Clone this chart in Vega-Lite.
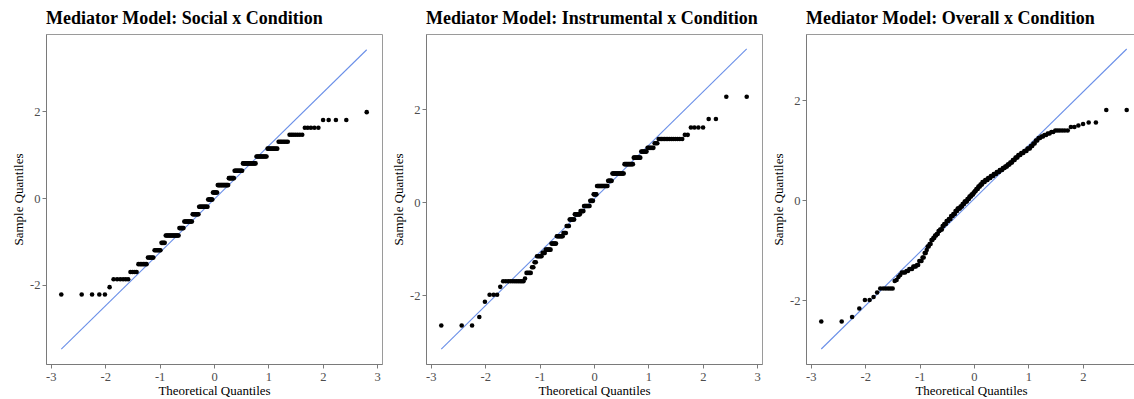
{
  "$schema": "https://vega.github.io/schema/vega-lite/v6.json",
  "padding": {"left": 12, "top": 9, "right": 0, "bottom": 0},
  "background": "white",
  "spacing": 44,
  "bounds": "flush",
  "datasets": {
    "ln": [
      {"t": -2.807, "social": -3.477, "instrumental": -3.16, "overall": -2.98},
      {"t": 2.807, "social": 3.417, "instrumental": 3.30, "overall": 3.02}
    ],
    "qq": [
      {"t": -2.807, "social": -2.22, "instrumental": -2.65, "overall": -2.43},
      {"t": -2.432, "social": -2.22, "instrumental": -2.65, "overall": -2.43},
      {"t": -2.241, "social": -2.22, "instrumental": -2.65, "overall": -2.34},
      {"t": -2.108, "social": -2.22, "instrumental": -2.47, "overall": -2.17},
      {"t": -2.005, "social": -2.22, "instrumental": -2.14, "overall": -2.00},
      {"t": -1.919, "social": -2.05, "instrumental": -1.99, "overall": -2.00},
      {"t": -1.846, "social": -1.87, "instrumental": -1.99, "overall": -1.94},
      {"t": -1.781, "social": -1.87, "instrumental": -1.99, "overall": -1.85},
      {"t": -1.723, "social": -1.87, "instrumental": -1.82, "overall": -1.77},
      {"t": -1.670, "social": -1.87, "instrumental": -1.70, "overall": -1.77},
      {"t": -1.622, "social": -1.87, "instrumental": -1.70, "overall": -1.77},
      {"t": -1.577, "social": -1.87, "instrumental": -1.70, "overall": -1.77},
      {"t": -1.535, "social": -1.70, "instrumental": -1.70, "overall": -1.77},
      {"t": -1.495, "social": -1.70, "instrumental": -1.70, "overall": -1.77},
      {"t": -1.457, "social": -1.70, "instrumental": -1.70, "overall": -1.62},
      {"t": -1.423, "social": -1.70, "instrumental": -1.70, "overall": -1.60},
      {"t": -1.389, "social": -1.52, "instrumental": -1.70, "overall": -1.54},
      {"t": -1.356, "social": -1.52, "instrumental": -1.70, "overall": -1.50},
      {"t": -1.326, "social": -1.52, "instrumental": -1.70, "overall": -1.45},
      {"t": -1.296, "social": -1.52, "instrumental": -1.70, "overall": -1.45},
      {"t": -1.268, "social": -1.52, "instrumental": -1.64, "overall": -1.45},
      {"t": -1.240, "social": -1.52, "instrumental": -1.52, "overall": -1.42},
      {"t": -1.214, "social": -1.37, "instrumental": -1.52, "overall": -1.42},
      {"t": -1.188, "social": -1.37, "instrumental": -1.52, "overall": -1.38},
      {"t": -1.163, "social": -1.37, "instrumental": -1.52, "overall": -1.38},
      {"t": -1.139, "social": -1.37, "instrumental": -1.40, "overall": -1.38},
      {"t": -1.115, "social": -1.37, "instrumental": -1.40, "overall": -1.33},
      {"t": -1.092, "social": -1.20, "instrumental": -1.29, "overall": -1.33},
      {"t": -1.070, "social": -1.20, "instrumental": -1.29, "overall": -1.33},
      {"t": -1.047, "social": -1.20, "instrumental": -1.16, "overall": -1.30},
      {"t": -1.026, "social": -1.20, "instrumental": -1.16, "overall": -1.30},
      {"t": -1.005, "social": -1.20, "instrumental": -1.16, "overall": -1.22},
      {"t": -0.985, "social": -1.20, "instrumental": -1.16, "overall": -1.22},
      {"t": -0.965, "social": -1.03, "instrumental": -1.16, "overall": -1.22},
      {"t": -0.945, "social": -1.03, "instrumental": -1.09, "overall": -1.15},
      {"t": -0.925, "social": -1.03, "instrumental": -1.09, "overall": -1.15},
      {"t": -0.906, "social": -1.03, "instrumental": -1.09, "overall": -1.06},
      {"t": -0.887, "social": -0.86, "instrumental": -1.02, "overall": -1.06},
      {"t": -0.869, "social": -0.86, "instrumental": -1.02, "overall": -1.00},
      {"t": -0.851, "social": -0.86, "instrumental": -1.02, "overall": -0.93},
      {"t": -0.833, "social": -0.86, "instrumental": -1.02, "overall": -0.93},
      {"t": -0.815, "social": -0.86, "instrumental": -1.02, "overall": -0.88},
      {"t": -0.798, "social": -0.86, "instrumental": -1.02, "overall": -0.88},
      {"t": -0.781, "social": -0.86, "instrumental": -0.89, "overall": -0.80},
      {"t": -0.764, "social": -0.86, "instrumental": -0.89, "overall": -0.80},
      {"t": -0.747, "social": -0.86, "instrumental": -0.89, "overall": -0.76},
      {"t": -0.731, "social": -0.86, "instrumental": -0.89, "overall": -0.76},
      {"t": -0.715, "social": -0.86, "instrumental": -0.89, "overall": -0.71},
      {"t": -0.698, "social": -0.86, "instrumental": -0.89, "overall": -0.71},
      {"t": -0.683, "social": -0.86, "instrumental": -0.73, "overall": -0.68},
      {"t": -0.667, "social": -0.86, "instrumental": -0.73, "overall": -0.68},
      {"t": -0.651, "social": -0.86, "instrumental": -0.73, "overall": -0.62},
      {"t": -0.636, "social": -0.69, "instrumental": -0.73, "overall": -0.62},
      {"t": -0.621, "social": -0.69, "instrumental": -0.73, "overall": -0.59},
      {"t": -0.605, "social": -0.69, "instrumental": -0.73, "overall": -0.59},
      {"t": -0.591, "social": -0.69, "instrumental": -0.73, "overall": -0.59},
      {"t": -0.576, "social": -0.69, "instrumental": -0.73, "overall": -0.52},
      {"t": -0.561, "social": -0.69, "instrumental": -0.66, "overall": -0.52},
      {"t": -0.546, "social": -0.54, "instrumental": -0.66, "overall": -0.48},
      {"t": -0.532, "social": -0.54, "instrumental": -0.66, "overall": -0.48},
      {"t": -0.517, "social": -0.54, "instrumental": -0.66, "overall": -0.48},
      {"t": -0.503, "social": -0.54, "instrumental": -0.51, "overall": -0.42},
      {"t": -0.489, "social": -0.54, "instrumental": -0.51, "overall": -0.42},
      {"t": -0.475, "social": -0.54, "instrumental": -0.51, "overall": -0.42},
      {"t": -0.461, "social": -0.54, "instrumental": -0.51, "overall": -0.38},
      {"t": -0.447, "social": -0.54, "instrumental": -0.37, "overall": -0.38},
      {"t": -0.433, "social": -0.54, "instrumental": -0.37, "overall": -0.38},
      {"t": -0.420, "social": -0.54, "instrumental": -0.37, "overall": -0.32},
      {"t": -0.406, "social": -0.54, "instrumental": -0.37, "overall": -0.32},
      {"t": -0.392, "social": -0.37, "instrumental": -0.37, "overall": -0.32},
      {"t": -0.379, "social": -0.37, "instrumental": -0.37, "overall": -0.28},
      {"t": -0.365, "social": -0.37, "instrumental": -0.37, "overall": -0.28},
      {"t": -0.352, "social": -0.37, "instrumental": -0.26, "overall": -0.28},
      {"t": -0.339, "social": -0.37, "instrumental": -0.26, "overall": -0.22},
      {"t": -0.325, "social": -0.37, "instrumental": -0.26, "overall": -0.22},
      {"t": -0.312, "social": -0.37, "instrumental": -0.26, "overall": -0.22},
      {"t": -0.299, "social": -0.37, "instrumental": -0.26, "overall": -0.17},
      {"t": -0.286, "social": -0.37, "instrumental": -0.26, "overall": -0.17},
      {"t": -0.273, "social": -0.20, "instrumental": -0.26, "overall": -0.17},
      {"t": -0.260, "social": -0.20, "instrumental": -0.26, "overall": -0.17},
      {"t": -0.247, "social": -0.20, "instrumental": -0.19, "overall": -0.13},
      {"t": -0.234, "social": -0.20, "instrumental": -0.19, "overall": -0.13},
      {"t": -0.221, "social": -0.20, "instrumental": -0.19, "overall": -0.13},
      {"t": -0.208, "social": -0.20, "instrumental": -0.19, "overall": -0.08},
      {"t": -0.195, "social": -0.20, "instrumental": -0.19, "overall": -0.08},
      {"t": -0.183, "social": -0.20, "instrumental": -0.08, "overall": -0.08},
      {"t": -0.170, "social": -0.20, "instrumental": -0.08, "overall": -0.03},
      {"t": -0.157, "social": -0.20, "instrumental": -0.08, "overall": -0.03},
      {"t": -0.145, "social": -0.20, "instrumental": -0.08, "overall": -0.03},
      {"t": -0.132, "social": -0.20, "instrumental": -0.08, "overall": -0.03},
      {"t": -0.120, "social": -0.20, "instrumental": -0.08, "overall": 0.02},
      {"t": -0.107, "social": -0.03, "instrumental": -0.08, "overall": 0.02},
      {"t": -0.094, "social": -0.03, "instrumental": -0.08, "overall": 0.02},
      {"t": -0.082, "social": -0.03, "instrumental": -0.08, "overall": 0.07},
      {"t": -0.069, "social": -0.03, "instrumental": 0.03, "overall": 0.07},
      {"t": -0.056, "social": -0.03, "instrumental": 0.03, "overall": 0.07},
      {"t": -0.044, "social": -0.03, "instrumental": 0.03, "overall": 0.11},
      {"t": -0.031, "social": -0.03, "instrumental": 0.03, "overall": 0.11},
      {"t": -0.019, "social": 0.13, "instrumental": 0.03, "overall": 0.11},
      {"t": -0.006, "social": 0.13, "instrumental": 0.17, "overall": 0.15},
      {"t": 0.006, "social": 0.13, "instrumental": 0.17, "overall": 0.15},
      {"t": 0.019, "social": 0.13, "instrumental": 0.17, "overall": 0.18},
      {"t": 0.031, "social": 0.13, "instrumental": 0.17, "overall": 0.18},
      {"t": 0.044, "social": 0.13, "instrumental": 0.17, "overall": 0.22},
      {"t": 0.056, "social": 0.13, "instrumental": 0.35, "overall": 0.22},
      {"t": 0.069, "social": 0.30, "instrumental": 0.35, "overall": 0.22},
      {"t": 0.082, "social": 0.30, "instrumental": 0.35, "overall": 0.27},
      {"t": 0.094, "social": 0.30, "instrumental": 0.35, "overall": 0.27},
      {"t": 0.107, "social": 0.30, "instrumental": 0.35, "overall": 0.27},
      {"t": 0.120, "social": 0.30, "instrumental": 0.35, "overall": 0.31},
      {"t": 0.132, "social": 0.30, "instrumental": 0.35, "overall": 0.31},
      {"t": 0.145, "social": 0.30, "instrumental": 0.35, "overall": 0.31},
      {"t": 0.157, "social": 0.30, "instrumental": 0.35, "overall": 0.36},
      {"t": 0.170, "social": 0.30, "instrumental": 0.35, "overall": 0.36},
      {"t": 0.183, "social": 0.30, "instrumental": 0.35, "overall": 0.36},
      {"t": 0.195, "social": 0.30, "instrumental": 0.35, "overall": 0.36},
      {"t": 0.208, "social": 0.30, "instrumental": 0.35, "overall": 0.40},
      {"t": 0.221, "social": 0.30, "instrumental": 0.35, "overall": 0.40},
      {"t": 0.234, "social": 0.30, "instrumental": 0.35, "overall": 0.40},
      {"t": 0.247, "social": 0.30, "instrumental": 0.35, "overall": 0.40},
      {"t": 0.260, "social": 0.30, "instrumental": 0.46, "overall": 0.44},
      {"t": 0.273, "social": 0.46, "instrumental": 0.46, "overall": 0.44},
      {"t": 0.286, "social": 0.46, "instrumental": 0.46, "overall": 0.44},
      {"t": 0.299, "social": 0.46, "instrumental": 0.46, "overall": 0.44},
      {"t": 0.312, "social": 0.46, "instrumental": 0.46, "overall": 0.48},
      {"t": 0.325, "social": 0.46, "instrumental": 0.46, "overall": 0.48},
      {"t": 0.339, "social": 0.46, "instrumental": 0.62, "overall": 0.48},
      {"t": 0.352, "social": 0.46, "instrumental": 0.62, "overall": 0.48},
      {"t": 0.365, "social": 0.46, "instrumental": 0.62, "overall": 0.52},
      {"t": 0.379, "social": 0.63, "instrumental": 0.62, "overall": 0.52},
      {"t": 0.392, "social": 0.63, "instrumental": 0.62, "overall": 0.52},
      {"t": 0.406, "social": 0.63, "instrumental": 0.62, "overall": 0.52},
      {"t": 0.420, "social": 0.63, "instrumental": 0.62, "overall": 0.56},
      {"t": 0.433, "social": 0.63, "instrumental": 0.62, "overall": 0.56},
      {"t": 0.447, "social": 0.63, "instrumental": 0.62, "overall": 0.56},
      {"t": 0.461, "social": 0.63, "instrumental": 0.62, "overall": 0.56},
      {"t": 0.475, "social": 0.63, "instrumental": 0.62, "overall": 0.60},
      {"t": 0.489, "social": 0.63, "instrumental": 0.62, "overall": 0.60},
      {"t": 0.503, "social": 0.63, "instrumental": 0.62, "overall": 0.60},
      {"t": 0.517, "social": 0.63, "instrumental": 0.62, "overall": 0.60},
      {"t": 0.532, "social": 0.80, "instrumental": 0.62, "overall": 0.64},
      {"t": 0.546, "social": 0.80, "instrumental": 0.62, "overall": 0.64},
      {"t": 0.561, "social": 0.80, "instrumental": 0.82, "overall": 0.64},
      {"t": 0.576, "social": 0.80, "instrumental": 0.82, "overall": 0.67},
      {"t": 0.591, "social": 0.80, "instrumental": 0.82, "overall": 0.67},
      {"t": 0.605, "social": 0.80, "instrumental": 0.82, "overall": 0.67},
      {"t": 0.621, "social": 0.80, "instrumental": 0.82, "overall": 0.71},
      {"t": 0.636, "social": 0.80, "instrumental": 0.82, "overall": 0.71},
      {"t": 0.651, "social": 0.80, "instrumental": 0.82, "overall": 0.71},
      {"t": 0.667, "social": 0.80, "instrumental": 0.82, "overall": 0.75},
      {"t": 0.683, "social": 0.80, "instrumental": 0.82, "overall": 0.75},
      {"t": 0.698, "social": 0.80, "instrumental": 0.82, "overall": 0.75},
      {"t": 0.715, "social": 0.80, "instrumental": 0.82, "overall": 0.80},
      {"t": 0.731, "social": 0.80, "instrumental": 0.96, "overall": 0.80},
      {"t": 0.747, "social": 0.80, "instrumental": 0.96, "overall": 0.80},
      {"t": 0.764, "social": 0.80, "instrumental": 0.96, "overall": 0.85},
      {"t": 0.781, "social": 0.96, "instrumental": 0.96, "overall": 0.85},
      {"t": 0.798, "social": 0.96, "instrumental": 0.96, "overall": 0.85},
      {"t": 0.815, "social": 0.96, "instrumental": 0.96, "overall": 0.90},
      {"t": 0.833, "social": 0.96, "instrumental": 0.96, "overall": 0.90},
      {"t": 0.851, "social": 0.96, "instrumental": 0.96, "overall": 0.90},
      {"t": 0.869, "social": 0.96, "instrumental": 1.09, "overall": 0.94},
      {"t": 0.887, "social": 0.96, "instrumental": 1.09, "overall": 0.94},
      {"t": 0.906, "social": 0.96, "instrumental": 1.09, "overall": 0.94},
      {"t": 0.925, "social": 0.96, "instrumental": 1.09, "overall": 0.98},
      {"t": 0.945, "social": 0.96, "instrumental": 1.09, "overall": 0.98},
      {"t": 0.965, "social": 0.96, "instrumental": 1.09, "overall": 0.98},
      {"t": 0.985, "social": 1.14, "instrumental": 1.17, "overall": 1.03},
      {"t": 1.005, "social": 1.14, "instrumental": 1.17, "overall": 1.03},
      {"t": 1.026, "social": 1.14, "instrumental": 1.17, "overall": 1.03},
      {"t": 1.047, "social": 1.14, "instrumental": 1.17, "overall": 1.08},
      {"t": 1.070, "social": 1.14, "instrumental": 1.17, "overall": 1.08},
      {"t": 1.092, "social": 1.14, "instrumental": 1.17, "overall": 1.13},
      {"t": 1.115, "social": 1.14, "instrumental": 1.27, "overall": 1.13},
      {"t": 1.139, "social": 1.14, "instrumental": 1.27, "overall": 1.19},
      {"t": 1.163, "social": 1.14, "instrumental": 1.27, "overall": 1.19},
      {"t": 1.188, "social": 1.30, "instrumental": 1.36, "overall": 1.24},
      {"t": 1.214, "social": 1.30, "instrumental": 1.36, "overall": 1.24},
      {"t": 1.240, "social": 1.30, "instrumental": 1.36, "overall": 1.27},
      {"t": 1.268, "social": 1.30, "instrumental": 1.36, "overall": 1.27},
      {"t": 1.296, "social": 1.30, "instrumental": 1.36, "overall": 1.30},
      {"t": 1.326, "social": 1.30, "instrumental": 1.36, "overall": 1.30},
      {"t": 1.356, "social": 1.30, "instrumental": 1.36, "overall": 1.33},
      {"t": 1.389, "social": 1.46, "instrumental": 1.36, "overall": 1.33},
      {"t": 1.423, "social": 1.46, "instrumental": 1.36, "overall": 1.36},
      {"t": 1.457, "social": 1.46, "instrumental": 1.36, "overall": 1.36},
      {"t": 1.495, "social": 1.46, "instrumental": 1.36, "overall": 1.39},
      {"t": 1.535, "social": 1.46, "instrumental": 1.36, "overall": 1.39},
      {"t": 1.577, "social": 1.46, "instrumental": 1.36, "overall": 1.39},
      {"t": 1.622, "social": 1.46, "instrumental": 1.36, "overall": 1.39},
      {"t": 1.670, "social": 1.62, "instrumental": 1.45, "overall": 1.39},
      {"t": 1.723, "social": 1.62, "instrumental": 1.45, "overall": 1.39},
      {"t": 1.781, "social": 1.62, "instrumental": 1.61, "overall": 1.46},
      {"t": 1.846, "social": 1.62, "instrumental": 1.61, "overall": 1.46},
      {"t": 1.919, "social": 1.62, "instrumental": 1.61, "overall": 1.49},
      {"t": 2.005, "social": 1.80, "instrumental": 1.61, "overall": 1.52},
      {"t": 2.108, "social": 1.80, "instrumental": 1.79, "overall": 1.55},
      {"t": 2.241, "social": 1.80, "instrumental": 1.79, "overall": 1.55},
      {"t": 2.432, "social": 1.80, "instrumental": 2.27, "overall": 1.80},
      {"t": 2.807, "social": 1.98, "instrumental": 2.27, "overall": 1.80}
    ]
  },
  "config": {
    "font": "Liberation Serif",
    "view": {"stroke": "#9a9a9a", "strokeWidth": 1},
    "axis": {
      "grid": false,
      "domainColor": "#7a7a7a",
      "domainWidth": 1,
      "tickColor": "#7a7a7a",
      "tickSize": 4,
      "labelColor": "#4d4d4d",
      "labelFontSize": 12.5,
      "labelFont": "Liberation Serif",
      "titleFont": "Liberation Serif",
      "titleFontSize": 13,
      "titleFontWeight": "normal",
      "titleColor": "#000000"
    },
    "title": {
      "anchor": "start",
      "frame": "group",
      "font": "Liberation Serif",
      "fontSize": 18,
      "fontWeight": "bold",
      "color": "#000000",
      "baseline": "alphabetic",
      "offset": 6
    }
  },
  "hconcat": [
    {
      "width": 336,
      "height": 330,
      "title": "Mediator Model: Social x Condition",
      "layer": [
        {
          "data": {"name": "ln"},
          "mark": {"type": "line", "color": "#6a8fe8", "strokeWidth": 1.1},
          "encoding": {
            "x": {"field": "t", "type": "quantitative", "scale": {"domain": [-3.088, 3.088], "nice": false, "zero": false},
                  "axis": {"title": "Theoretical Quantiles", "values": [-3, -2, -1, 0, 1, 2, 3], "labelExpr": "'' + datum.value", "labelPadding": 2, "titlePadding": 2}},
            "y": {"field": "social", "type": "quantitative", "scale": {"domain": [-3.82, 3.78], "nice": false, "zero": false},
                  "axis": {"title": "Sample Quantiles", "values": [-2, 0, 2], "labelExpr": "'' + datum.value", "labelPadding": 2, "titlePadding": 4}}
          }
        },
        {
          "data": {"name": "qq"},
          "mark": {"type": "circle", "color": "#000000", "size": 21, "opacity": 1},
          "encoding": {
            "x": {"field": "t", "type": "quantitative"},
            "y": {"field": "social", "type": "quantitative"}
          }
        }
      ]
    },
    {
      "width": 336,
      "height": 330,
      "title": "Mediator Model: Instrumental x Condition",
      "layer": [
        {
          "data": {"name": "ln"},
          "mark": {"type": "line", "color": "#6a8fe8", "strokeWidth": 1.1},
          "encoding": {
            "x": {"field": "t", "type": "quantitative", "scale": {"domain": [-3.088, 3.088], "nice": false, "zero": false},
                  "axis": {"title": "Theoretical Quantiles", "values": [-3, -2, -1, 0, 1, 2, 3], "labelExpr": "'' + datum.value", "labelPadding": 2, "titlePadding": 2}},
            "y": {"field": "instrumental", "type": "quantitative", "scale": {"domain": [-3.48, 3.62], "nice": false, "zero": false},
                  "axis": {"title": "Sample Quantiles", "values": [-2, 0, 2], "labelExpr": "'' + datum.value", "labelPadding": 2, "titlePadding": 4}}
          }
        },
        {
          "data": {"name": "qq"},
          "mark": {"type": "circle", "color": "#000000", "size": 21, "opacity": 1},
          "encoding": {
            "x": {"field": "t", "type": "quantitative"},
            "y": {"field": "instrumental", "type": "quantitative"}
          }
        }
      ]
    },
    {
      "width": 330,
      "height": 330,
      "title": "Mediator Model: Overall x Condition",
      "layer": [
        {
          "data": {"name": "ln"},
          "mark": {"type": "line", "color": "#6a8fe8", "strokeWidth": 1.1},
          "encoding": {
            "x": {"field": "t", "type": "quantitative", "scale": {"domain": [-3.088, 2.978], "nice": false, "zero": false},
                  "axis": {"title": "Theoretical Quantiles", "values": [-3, -2, -1, 0, 1, 2], "labelExpr": "'' + datum.value", "labelPadding": 2, "titlePadding": 2}},
            "y": {"field": "overall", "type": "quantitative", "scale": {"domain": [-3.28, 3.32], "nice": false, "zero": false},
                  "axis": {"title": "Sample Quantiles", "values": [-2, 0, 2], "labelExpr": "'' + datum.value", "labelPadding": 2, "titlePadding": 4}}
          }
        },
        {
          "data": {"name": "qq"},
          "mark": {"type": "circle", "color": "#000000", "size": 21, "opacity": 1},
          "encoding": {
            "x": {"field": "t", "type": "quantitative"},
            "y": {"field": "overall", "type": "quantitative"}
          }
        }
      ]
    }
  ]
}
